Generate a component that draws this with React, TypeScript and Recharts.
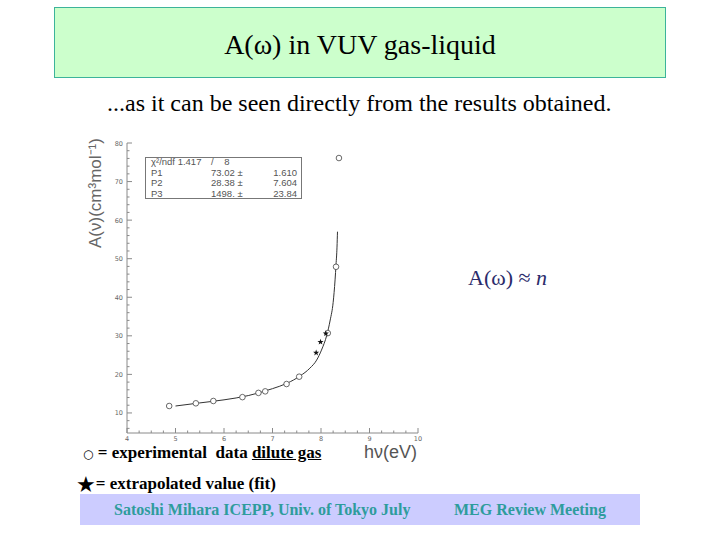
import { ComposedChart, Line, Scatter, XAxis, YAxis, Label } from "recharts";

// photon energy (eV) vs A(nu) (cm^3 mol^-1)
const gasData = [
  { e: 4.87, a: 11.8 },
  { e: 5.42, a: 12.5 },
  { e: 5.78, a: 13.1 },
  { e: 6.38, a: 14.1 },
  { e: 6.71, a: 15.2 },
  { e: 6.85, a: 15.6 },
  { e: 7.29, a: 17.5 },
  { e: 7.55, a: 19.4 },
  { e: 8.14, a: 30.7 },
  { e: 8.31, a: 47.9 },
  { e: 8.37, a: 76.1 }
];

const extrapolated = [
  { e: 7.9, a: 25.6 },
  { e: 7.99, a: 28.4 },
  { e: 8.1, a: 30.6 }
];

const fitCurve = [
  { e: 5.0, a: 11.8 },
  { e: 5.5, a: 12.6 },
  { e: 6.0, a: 13.4 },
  { e: 6.5, a: 14.5 },
  { e: 7.0, a: 16.3 },
  { e: 7.3, a: 17.7 },
  { e: 7.57, a: 19.6 },
  { e: 7.77, a: 21.6 },
  { e: 7.91, a: 23.7 },
  { e: 8.01, a: 26.3 },
  { e: 8.12, a: 30.2 },
  { e: 8.19, a: 34.1 },
  { e: 8.25, a: 38.6 },
  { e: 8.29, a: 44.5 },
  { e: 8.31, a: 48.5 },
  { e: 8.33, a: 53 },
  { e: 8.34, a: 57 }
];

const xMajor = [4, 5, 6, 7, 8, 9, 10];
const xTicks = [
  4, 4.25, 4.5, 4.75, 5, 5.25, 5.5, 5.75, 6, 6.25, 6.5, 6.75, 7, 7.25, 7.5, 7.75,
  8, 8.25, 8.5, 8.75, 9, 9.25, 9.5, 9.75, 10
];
const yMajor = [10, 20, 30, 40, 50, 60, 70, 80];
const yTicks = [
  6, 8, 10, 12, 14, 16, 18, 20, 22, 24, 26, 28, 30, 32, 34, 36, 38, 40, 42, 44,
  46, 48, 50, 52, 54, 56, 58, 60, 62, 64, 66, 68, 70, 72, 74, 76, 78, 80
];

const statRows = [
  ["\u03C7\u00B2/ndf 1.417", "/    8", ""],
  ["P1", "73.02 \u00B1", "1.610"],
  ["P2", "28.38 \u00B1", "7.604"],
  ["P3", "1498. \u00B1", "23.84"]
];

const frame = "#8a8a8a";
const tickText = "#666";
const serif = '"Liberation Serif", "Times New Roman", serif';

function makeTick(side: string, majors: number[]) {
  return (props: any) => {
    const { x, y, payload } = props;
    const v = payload.value;
    const major = majors.includes(v);
    const len = major ? 5 : 2.5;
    if (side === "bottom") {
      return (
        <g>
          <line x1={x} y1={y} x2={x} y2={y - len} stroke={frame} />
          {major && (
            <text x={x} y={y + 7.5} textAnchor="middle" fontSize={6.5} fill={tickText} fontFamily="DejaVu Sans">
              {v}
            </text>
          )}
        </g>
      );
    }
    if (side === "top") {
      return <line x1={x} y1={y} x2={x} y2={y + len} stroke={frame} />;
    }
    if (side === "left") {
      return (
        <g>
          <line x1={x} y1={y} x2={x + len} y2={y} stroke={frame} />
          {major && (
            <text x={x - 4} y={y + 2.5} textAnchor="end" fontSize={6.5} fill={tickText} fontFamily="DejaVu Sans">
              {v}
            </text>
          )}
        </g>
      );
    }
    return <line x1={x} y1={y} x2={x - len} y2={y} stroke={frame} />;
  };
}

const OpenCircle = (p: any) => (
  <circle cx={p.cx} cy={p.cy} r={2.8} fill="#fff" stroke="#444" strokeWidth={0.8} />
);

const StarMark = (p: any) => {
  const pts: string[] = [];
  for (let i = 0; i < 10; i++) {
    const r = i % 2 ? 1.3 : 3.2;
    const ang = -Math.PI / 2 + (i * Math.PI) / 5;
    pts.push(`${p.cx + r * Math.cos(ang)},${p.cy + r * Math.sin(ang)}`);
  }
  return <polygon points={pts.join(" ")} fill="#111" />;
};

export default function App() {
  return (
    <div
      style={{
        position: "absolute",
        left: 0,
        top: 0,
        width: 720,
        height: 540,
        background: "#fff",
        overflow: "hidden",
        fontFamily: serif,
        color: "#000"
      }}
    >
      {/* title box */}
      <div
        style={{
          position: "absolute",
          left: 54,
          top: 7,
          width: 612,
          height: 71,
          boxSizing: "border-box",
          border: "1px solid #3cb39a",
          background: "#ccffcc",
          display: "flex",
          alignItems: "center",
          justifyContent: "center",
          fontSize: 28,
          paddingTop: 4
        }}
      >
        A(ω) in VUV gas-liquid
      </div>

      <div style={{ position: "absolute", left: 107, top: 91, fontSize: 24, lineHeight: "24px", whiteSpace: "nowrap" }}>
        ...as it can be seen directly from the results obtained.
      </div>

      {/* chart */}
      <div style={{ position: "absolute", left: 60, top: 130 }}>
        <ComposedChart width={380} height={340} margin={{ top: 13, right: 22, bottom: 7, left: 27 }}>
          <XAxis
            xAxisId="x"
            dataKey="e"
            type="number"
            domain={[4, 10]}
            allowDataOverflow
            ticks={xTicks}
            interval={0}
            height={30}
            tickSize={0}
            tickMargin={0}
            tickLine={false}
            axisLine={{ stroke: frame }}
            tick={makeTick("bottom", xMajor)}
          >
            <Label
              content={() => (
                <text x={357} y={328} textAnchor="end" fontSize={18} fill="#555" fontFamily="Liberation Sans">
                  hν(eV)
                </text>
              )}
            />
          </XAxis>
          <XAxis
            xAxisId="top"
            orientation="top"
            type="number"
            domain={[4, 10]}
            allowDataOverflow
            ticks={xTicks}
            interval={0}
            height={0}
            tickSize={0}
            tickMargin={0}
            tickLine={false}
            axisLine={{ stroke: "#c4c4c4" }}
            tick={makeTick("top", xMajor)}
          />
          <YAxis
            yAxisId="y"
            type="number"
            domain={[4.8, 80]}
            allowDataOverflow
            ticks={yTicks}
            interval={0}
            width={40}
            tickSize={0}
            tickMargin={0}
            tickLine={false}
            axisLine={{ stroke: frame }}
            tick={makeTick("left", yMajor)}
          >
            <Label
              content={() => (
                <text
                  x={41}
                  y={118}
                  transform="rotate(-90 41 118)"
                  fontSize={17}
                  fill="#666"
                  fontFamily="Liberation Sans"
                >
                  A(ν)(cm³mol⁻¹)
                </text>
              )}
            />
          </YAxis>
          <YAxis
            yAxisId="right"
            orientation="right"
            type="number"
            domain={[4.8, 80]}
            allowDataOverflow
            ticks={yTicks}
            interval={0}
            width={0}
            tickSize={0}
            tickMargin={0}
            tickLine={false}
            axisLine={{ stroke: frame }}
            tick={makeTick("right", yMajor)}
          />
          <Line
            xAxisId="x"
            yAxisId="y"
            data={fitCurve}
            dataKey="a"
            type="monotone"
            stroke="#333"
            strokeWidth={1}
            dot={false}
            isAnimationActive={false}
          />
          <Scatter
            xAxisId="x"
            yAxisId="y"
            data={gasData}
            dataKey="a"
            shape={OpenCircle}
            isAnimationActive={false}
          />
          <Scatter
            xAxisId="x"
            yAxisId="y"
            data={extrapolated}
            dataKey="a"
            shape={StarMark}
            isAnimationActive={false}
          />
        </ComposedChart>
      </div>

      {/* fit statistics box */}
      <div
        style={{
          position: "absolute",
          left: 145,
          top: 157,
          width: 157,
          height: 42,
          boxSizing: "border-box",
          border: "1px solid #777",
          background: "#fff",
          fontFamily: '"Liberation Sans", sans-serif',
          fontSize: 9.5,
          color: "#555"
        }}
      >
        {statRows.map((r, i) => (
          <div key={i} style={{ position: "absolute", top: -1 + i * 10.5, left: 0, width: "100%", lineHeight: "10px" }}>
            <span style={{ position: "absolute", left: 5 }}>{r[0]}</span>
            <span style={{ position: "absolute", left: 65, whiteSpace: "pre" }}>{r[1]}</span>
            <span style={{ position: "absolute", right: 4 }}>{r[2]}</span>
          </div>
        ))}
      </div>

      <div style={{ position: "absolute", left: 468, top: 267, fontSize: 22, lineHeight: "22px", color: "#2b2b6b", whiteSpace: "nowrap", fontFamily: serif }}>
        A(ω) ≈ <i>n</i>
      </div>

      {/* symbol legend */}
      <div style={{ position: "absolute", left: 83, top: 445, fontSize: 17, lineHeight: "16px", fontWeight: "bold", whiteSpace: "nowrap", fontFamily: serif }}>
        <span style={{ fontWeight: "normal", fontFamily: '"DejaVu Sans"', fontSize: 12 }}>○</span> = experimental&nbsp; data <u>dilute gas</u>
      </div>
      <div style={{ position: "absolute", left: 76, top: 476, fontSize: 17, lineHeight: "16px", fontWeight: "bold", whiteSpace: "nowrap", fontFamily: serif }}>
        <span style={{ fontFamily: '"DejaVu Sans"', fontSize: 22, fontWeight: "normal", verticalAlign: "-3px" }}>★</span>= extrapolated value (fit)
      </div>

      {/* footer */}
      <div style={{ position: "absolute", left: 80, top: 494, width: 560, height: 31, background: "#ccccff" }} />
      <div style={{ position: "absolute", left: 114, top: 502, fontSize: 16, lineHeight: "16px", fontWeight: "bold", color: "#2e9c9c", whiteSpace: "nowrap", fontFamily: serif }}>
        Satoshi Mihara ICEPP, Univ. of Tokyo July
      </div>
      <div style={{ position: "absolute", left: 454, top: 502, fontSize: 16, lineHeight: "16px", fontWeight: "bold", color: "#2e9c9c", whiteSpace: "nowrap", fontFamily: serif }}>
        MEG Review Meeting
      </div>
    </div>
  );
}
